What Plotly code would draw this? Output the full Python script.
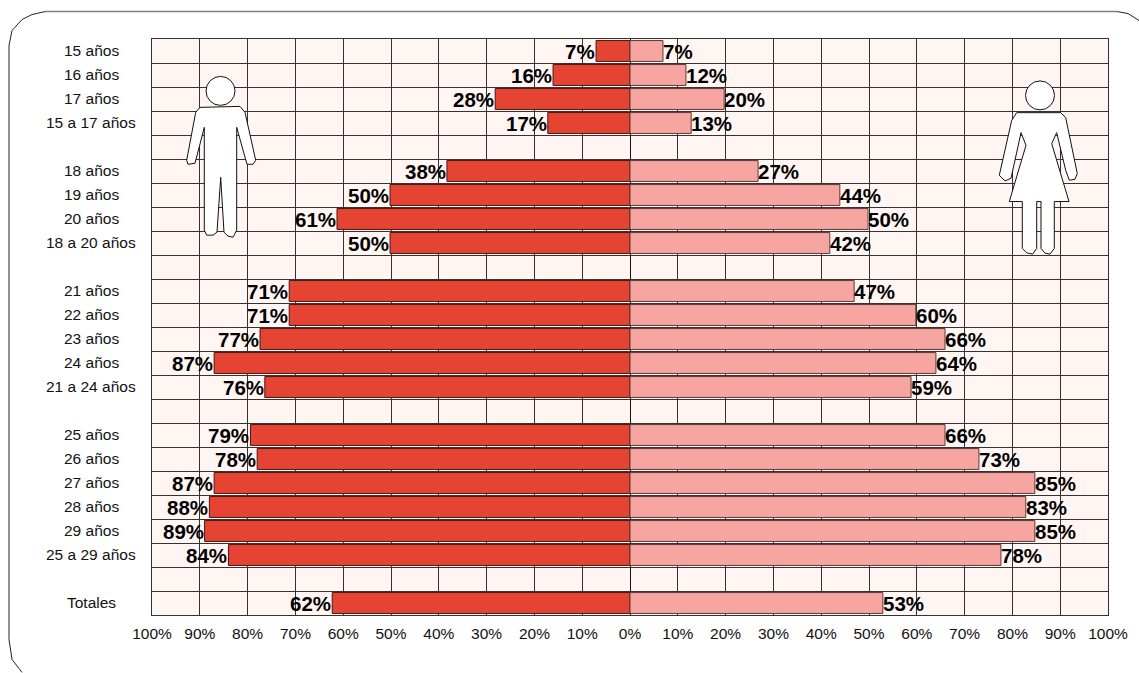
import plotly.graph_objects as go

W, H = 1139, 673
L, R, T, B = 152, 1108, 38.5, 615.5

categories = ["15 años", "16 años", "17 años", "15 a 17 años", "",
              "18 años", "19 años", "20 años", "18 a 20 años", "",
              "21 años", "22 años", "23 años", "24 años", "21 a 24 años", "",
              "25 años", "26 años", "27 años", "28 años", "29 años", "25 a 29 años", "",
              "Totales"]
varones = [7.1, 16.1, 28.2, 17.2, None,
           38.3, 50.2, 61.3, 50.2, None,
           71.3, 71.3, 77.4, 87.0, 76.4, None,
           79.4, 78.0, 87.0, 88.0, 89.0, 84.0, None,
           62.3]
mujeres = [6.9, 11.7, 19.7, 12.8, None,
           26.8, 43.9, 49.8, 41.8, None,
           46.9, 59.8, 65.9, 64.0, 58.8, None,
           65.9, 73.0, 84.7, 82.8, 84.7, 77.6, None,
           52.9]
x_ticks = [-100, -90, -80, -70, -60, -50, -40, -30, -20, -10, 0,
           10, 20, 30, 40, 50, 60, 70, 80, 90, 100]
x_labels = [f"{abs(v)}%" for v in x_ticks]

FONT = "Liberation Sans"
ypos = list(range(len(categories)))


def px(x, y):
    return (x - L) / (R - L), (B - y) / (B - T)


def path(points, close=True):
    out = []
    for i, (x, y) in enumerate(points):
        fx, fy = px(x, y)
        out.append(("M" if i == 0 else "L") + f" {fx:.5f},{fy:.5f}")
    return " ".join(out) + (" Z" if close else "")


def figure_shape(points):
    return dict(type="path", xref="paper", yref="paper", path=path(points),
                fillcolor="white", line=dict(color="#111111", width=1), layer="above")


def head(cx, cy, r):
    x0, y0 = px(cx - r, cy + r)
    x1, y1 = px(cx + r, cy - r)
    return dict(type="circle", xref="paper", yref="paper", x0=x0, y0=y0, x1=x1, y1=y1,
                fillcolor="white", line=dict(color="#111111", width=1), layer="above")


man = [(200, 107), (240, 106), (245, 112), (255.7, 160), (253, 164), (247, 164),
       (236.7, 127), (236.7, 230), (233, 237), (228, 236), (224, 232), (220.7, 177),
       (217, 232), (213, 235), (206.7, 235), (204.3, 230), (204.3, 127), (195, 163),
       (188, 164), (186.7, 160), (195.7, 112)]
woman = [(1016.7, 112.3), (1060.7, 112.3), (1065.7, 117.3), (1077.3, 173.3), (1075, 179),
         (1069.3, 180), (1065.7, 170), (1056.7, 132.3), (1051.7, 143.3), (1069, 201.3),
         (1054.3, 201.3), (1054.3, 248.3), (1050, 254), (1045, 253), (1041, 248.3),
         (1041, 201.3), (1036.7, 201.3), (1036.7, 248.3), (1032.7, 254), (1026.7, 252.7),
         (1022.3, 248.3), (1022.3, 201.3), (1009.3, 201.3), (1026, 145), (1021, 132.3),
         (1011, 178), (1005, 180.7), (999.3, 175), (1011.7, 120)]
frame_left = [(22, 673), (12, 660), (9, 640), (9, 45), (12, 30), (22, 19), (32, 14), (45, 11)]
frame_top = [(45, 11), (1117, 11)]
frame_right = [(1117, 11), (1128, 13), (1139, 20)]

shapes = [figure_shape(man), head(220.5, 90.5, 14.5), figure_shape(woman), head(1040, 95, 14.5)]
shapes += [
    dict(type="path", xref="paper", yref="paper", path=path(frame_left, False),
         line=dict(color="#222222", width=1), layer="below"),
    dict(type="path", xref="paper", yref="paper", path=path(frame_top, False),
         line=dict(color="#808080", width=1.5), layer="below"),
    dict(type="path", xref="paper", yref="paper", path=path(frame_right, False),
         line=dict(color="#222222", width=1), layer="below"),
]

fig = go.Figure()
fig.add_bar(y=ypos, x=[None if v is None else -v for v in varones], orientation="h",
            name="Varones", width=0.87, marker=dict(color="#e64433", line=dict(color="#4a1510", width=1)))
fig.add_bar(y=ypos, x=mujeres, orientation="h",
            name="Mujeres", width=0.87, marker=dict(color="#f6a5a0", line=dict(color="#5a3a38", width=1)))

annotations = [dict(xref="paper", yref="y", x=(91 - L) / (R - L), y=i, text=c, showarrow=False,
                    xanchor="center", yanchor="middle", yshift=1,
                    font=dict(family=FONT, size=15.5, color="#111111"))
               for i, c in zip(ypos, categories) if c]
for i, v, w in zip(ypos, varones, mujeres):
    if v is not None:
        annotations.append(dict(x=-v, y=i, text=f"{round(v)}%", showarrow=False, xanchor="right",
                                yanchor="middle", yshift=0, xshift=-1, borderpad=0, borderwidth=0,
                                font=dict(family=FONT, size=20.5, color="#000000", weight="bold")))
    if w is not None:
        annotations.append(dict(x=w, y=i, text=f"{round(w)}%", showarrow=False, xanchor="left",
                                yanchor="middle", yshift=0, borderpad=0, borderwidth=0,
                                font=dict(family=FONT, size=20.5, color="#000000", weight="bold")))

fig.update_layout(
    width=W, height=H, autosize=False,
    margin=dict(l=L, r=W - R, t=T, b=H - B, pad=0),
    paper_bgcolor="white", plot_bgcolor="#fff5f3",
    barmode="overlay", showlegend=False,
    font=dict(family=FONT, size=15.5, color="#111111"),
    shapes=shapes, annotations=annotations,
)
fig.update_xaxes(range=[-100, 100], tickmode="array", tickvals=x_ticks, ticktext=x_labels,
                 showgrid=True, gridcolor="#333333", gridwidth=1,
                 zeroline=True, zerolinecolor="#111111", zerolinewidth=1,
                 showline=True, linecolor="#333333", linewidth=1, mirror=True,
                 ticks="", ticklabelstandoff=4, tickfont=dict(family=FONT, size=15.5, color="#111111"))
fig.update_yaxes(range=[len(categories) - 0.5, -0.5], tick0=-0.5, dtick=1, tickmode="linear",
                 showgrid=True, gridcolor="#333333", gridwidth=1, zeroline=False,
                 showline=True, linecolor="#333333", linewidth=1, mirror=True,
                 showticklabels=False, ticks="")

fig.write_html("out.html", config=dict(displayModeBar=False),
               post_script="document.body.style.margin='0';document.body.style.overflow='hidden';")
